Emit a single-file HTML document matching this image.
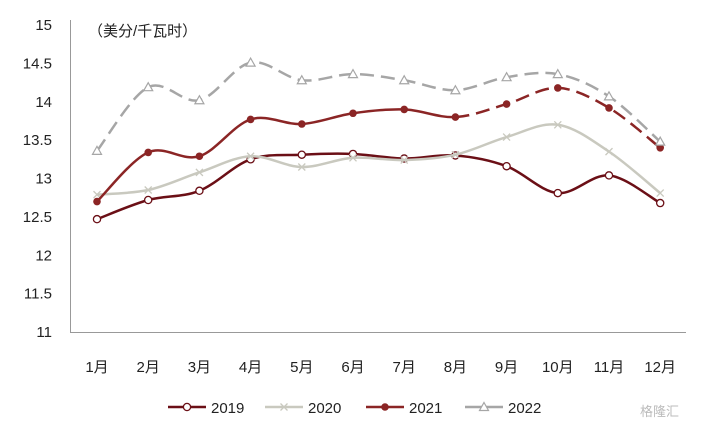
<!DOCTYPE html>
<html><head><meta charset="utf-8"><style>
body{margin:0;background:#fff;}
svg text{font-family:"Liberation Sans","Noto Sans CJK SC",sans-serif;}
</style></head><body>
<svg id="c" width="706" height="429" viewBox="0 0 706 429" xmlns="http://www.w3.org/2000/svg">
<text x="88" y="36" font-size="15" fill="#222">（美分/千瓦时）</text>
<text x="640" y="416" font-size="13" fill="#bbb">格隆汇</text>
</svg>
<script>
const months=['1月','2月','3月','4月','5月','6月','7月','8月','9月','10月','11月','12月'];
const yTicks=[11,11.5,12,12.5,13,13.5,14,14.5,15];
const s2019=[12.47,12.72,12.84,13.25,13.31,13.32,13.26,13.30,13.16,12.81,13.04,12.68];
const s2020=[12.79,12.85,13.08,13.29,13.15,13.27,13.24,13.31,13.54,13.70,13.35,12.81];
const s2021=[12.70,13.34,13.29,13.77,13.71,13.85,13.90,13.80,13.97,14.18,13.92,13.40];
const s2022=[13.36,14.19,14.02,14.51,14.28,14.36,14.28,14.15,14.32,14.36,14.07,13.48];
const svg=document.getElementById('c');const NS='http://www.w3.org/2000/svg';
function X(i){return 97+i*51.2;}
function Y(v){return 332-(v-11)*76.75;}
function mk(t,a,p){const e=document.createElementNS(NS,t);for(const k in a)e.setAttribute(k,a[k]);(p||svg).appendChild(e);return e;}
yTicks.forEach(v=>{const t=mk('text',{x:52,y:Y(v)+5,'font-size':15,'text-anchor':'end',fill:'#222'});t.textContent=v;

});
const ax=mk('path',{d:'M70.5 20V332.5H686',stroke:'#999',fill:'none'});


months.forEach((m,i)=>{const t=mk('text',{x:X(i),y:372,'font-size':15,'text-anchor':'middle',fill:'#222'});t.textContent=m;

});
function path(d,a,b){let s='';for(let i=a;i<b;i++){const p0=[X(Math.max(i-1,0)),Y(d[Math.max(i-1,0)])],p1=[X(i),Y(d[i])],p2=[X(i+1),Y(d[i+1])],p3=[X(Math.min(i+2,11)),Y(d[Math.min(i+2,11)])];
if(i==a)s+='M'+p1[0]+' '+p1[1];
s+=`C${p1[0]+(p2[0]-p0[0])/6} ${p1[1]+(p2[1]-p0[1])/6} ${p2[0]-(p3[0]-p1[0])/6} ${p2[1]-(p3[1]-p1[1])/6} ${p2[0]} ${p2[1]}`;}return s;}
function marker(kind,x,y,col,g){
if(kind=='o')return mk('circle',{cx:x,cy:y,r:3.6,fill:'#fff',stroke:col,'stroke-width':1.3},g);
if(kind=='x')return mk('path',{d:`M${x-3.5} ${y-3.5}L${x+3.5} ${y+3.5}M${x-3.5} ${y+3.5}L${x+3.5} ${y-3.5}`,stroke:col,'stroke-width':1.3},g);
if(kind=='f')return mk('circle',{cx:x,cy:y,r:3.8,fill:col},g);
return mk('path',{d:`M${x} ${y-4.5}L${x+4.5} ${y+3.5}L${x-4.5} ${y+3.5}Z`,fill:'#fff',stroke:col,'stroke-width':1.2},g);}
const series=[[s2019,'#6b0f16','o','2019',null],[s2020,'#c9c9bf','x','2020',null],[s2021,'#8b2525','f','2021',7],[s2022,'#a6a6a6','t','2022',0]];
series.forEach(([d,col,k,name,dashFrom],si)=>{const g=mk('g',{});


if(dashFrom===null)mk('path',{d:path(d,0,11),stroke:col,'stroke-width':2.5,fill:'none'},g);
else{if(dashFrom>0)mk('path',{d:path(d,0,dashFrom),stroke:col,'stroke-width':2.5,fill:'none'},g);
mk('path',{d:path(d,dashFrom,11),stroke:col,'stroke-width':2.5,fill:'none','stroke-dasharray':'14 7'},g);}
d.forEach((v,i)=>{const m=marker(k,X(i),Y(v),col,g);

});
const lx=[168,265,366,465][si];const lg=mk('g',{});


mk('line',{x1:lx,y1:407,x2:lx+38,y2:407,stroke:col,'stroke-width':2.5},lg);
marker(k,lx+19,407,col,lg);
const t=mk('text',{x:lx+43,y:413,'font-size':15,fill:'#222'},lg);t.textContent=name;});
</script>
</body></html>
